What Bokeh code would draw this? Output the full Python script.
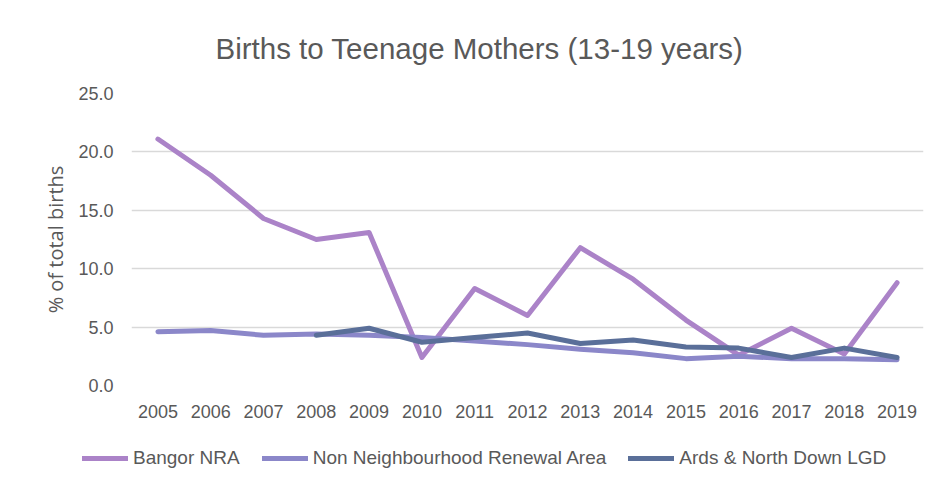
from bokeh.plotting import figure
from bokeh.models import (Range1d, FactorRange, FixedTicker, NumeralTickFormatter,
                          Legend, LegendItem, Div)
from bokeh.layouts import column
from bokeh.embed import file_html
from bokeh.resources import INLINE

years = ["2005", "2006", "2007", "2008", "2009", "2010", "2011", "2012",
         "2013", "2014", "2015", "2016", "2017", "2018", "2019"]
bangor_nra = [21.1, 18.0, 14.3, 12.5, 13.1, 2.4, 8.3, 6.0, 11.8, 9.1, 5.6, 2.6, 4.9, 2.7, 8.8]
non_nra = [4.6, 4.7, 4.3, 4.4, 4.3, 4.1, 3.8, 3.5, 3.1, 2.8, 2.3, 2.5, 2.3, 2.3, 2.2]
ards_years = ["2008", "2009", "2010", "2011", "2012", "2013", "2014", "2015",
              "2016", "2017", "2018", "2019"]
ards_lgd = [4.3, 4.9, 3.7, 4.1, 4.5, 3.6, 3.9, 3.3, 3.2, 2.4, 3.2, 2.4]
y_ticks = [0, 5, 10, 15, 20, 25]

series_names = ["Bangor NRA", "Non Neighbourhood Renewal Area", "Ards & North Down LGD"]
series_x = [years, years, ards_years]
series_y = [bangor_nra, non_nra, ards_lgd]
colors = ["#AB83C8", "#8B87C9", "#5A6F99"]
TEXT = "#595959"
FONT = "Liberation Sans"
line_kw = dict(line_width=5, line_join="round", line_cap="round")

p = figure(width=935, height=440, x_range=FactorRange(*years), y_range=Range1d(0, 25),
           output_backend="svg", toolbar_location=None,
           title="Births to Teenage Mothers (13-19 years)",
           min_border_left=131, min_border_right=12, min_border_top=93, min_border_bottom=55)
p.frame_align = False
p.title.align = "left"
p.title.offset = 84
p.title.standoff = 57
p.title.text_font = FONT
p.title.text_font_size = "29.5px"
p.title.text_font_style = "normal"
p.title.text_color = TEXT

p.outline_line_color = None
p.background_fill_color = "white"
p.border_fill_color = "white"

p.xgrid.grid_line_color = None
p.ygrid.grid_line_color = "#D9D9D9"
p.ygrid.grid_line_width = 1.3
p.yaxis.ticker = FixedTicker(ticks=y_ticks)
p.yaxis.formatter = NumeralTickFormatter(format="0.0")
for ax in (p.xaxis, p.yaxis):
    ax.axis_line_color = None
    ax.major_tick_line_color = None
    ax.minor_tick_line_color = None
    ax.major_tick_in = 0
    ax.major_tick_out = 0
    ax.major_label_text_color = TEXT
    ax.major_label_text_font = FONT
    ax.major_label_text_font_size = "18px"
p.xaxis.major_label_standoff = 19
p.yaxis.major_label_standoff = 18

p.yaxis.axis_label = "% of total births"
p.yaxis.axis_label_text_font = "Open Sans"
p.yaxis.axis_label_text_font_size = "20px"
p.yaxis.axis_label_text_font_style = "normal"
p.yaxis.axis_label_text_color = TEXT
p.yaxis.axis_label_standoff = 6

for xs, ys, c in zip(series_x, series_y, colors):
    p.line(xs, ys, line_color=c, **line_kw)

# legend strip below the chart (its series lie outside its hidden y range)
q = figure(width=935, height=45, x_range=FactorRange(*years), y_range=Range1d(-100, -55),
           output_backend="svg", toolbar_location=None,
           min_border_left=0, min_border_right=0, min_border_top=0, min_border_bottom=0)
q.frame_align = False
q.title.visible = False
q.axis.visible = False
q.grid.visible = False
q.outline_line_color = None
q.border_fill_color = "white"
q.background_fill_color = "white"
legend_renderers = [q.line(xs, ys, line_color=c, **line_kw) for xs, ys, c in zip(series_x, series_y, colors)]
legend = Legend(items=[LegendItem(label=n, renderers=[r]) for n, r in zip(series_names, legend_renderers)],
                location=(82, 16), orientation="horizontal", padding=0, margin=0, spacing=22,
                glyph_width=46, glyph_height=20, label_height=20, label_standoff=5,
                border_line_alpha=0, background_fill_alpha=0,
                label_text_font=FONT, label_text_font_size="19px", label_text_color=TEXT)
q.add_layout(legend, "center")

band = Div(width=935, height=5, styles={"background": "linear-gradient(#F2EDF9, #E6DDF2)"})
layout = column(p, q, band, spacing=0)

open("out.html", "w").write(file_html(layout, INLINE))
